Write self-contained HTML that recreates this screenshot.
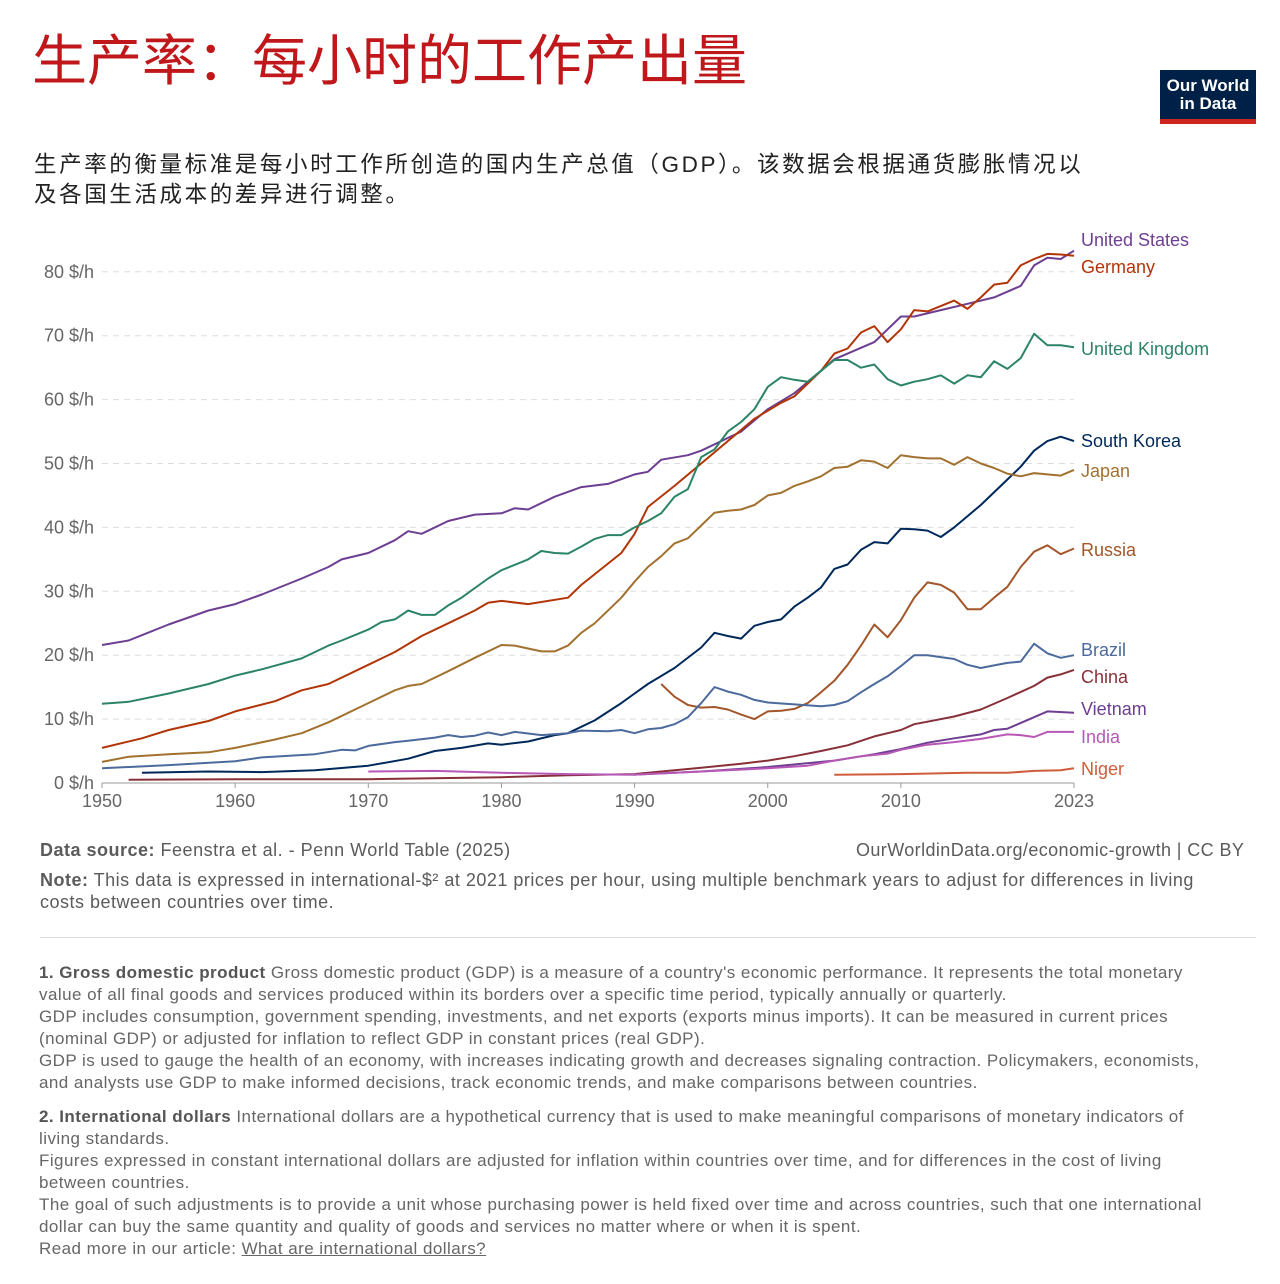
<!DOCTYPE html>
<html><head><meta charset="utf-8">
<style>
body{margin:0;width:1280px;height:1284px;background:#fff;font-family:"Liberation Sans","Noto Sans CJK SC",sans-serif;position:relative;overflow:hidden}
.abs{position:absolute}
#title{left:32px;top:16px;font-size:55px;color:#c0171b;white-space:nowrap}
#logo{left:1160px;top:70px;width:96px;height:54px;background:#002147;color:#fff;font-size:17px;font-weight:bold;line-height:18px;text-align:center;padding-top:7px;box-sizing:border-box}
#logo:after{content:"";position:absolute;left:0;right:0;bottom:0;height:5px;background:#ce261e}
#subtitle{left:34px;top:150px;font-size:22.5px;line-height:30px;color:#222;white-space:nowrap;letter-spacing:2.6px}
.foot{left:40px;font-size:18px;color:#5b5b5b;line-height:22px;white-space:nowrap;letter-spacing:0.5px}
.notes{left:39px;font-size:17px;color:#666;line-height:22px;white-space:nowrap;letter-spacing:0.45px}
.notes b{color:#555}
</style></head><body>
<div id="title" class="abs">生产率：每小时的工作产出量</div>
<div id="logo" class="abs">Our World<br>in Data</div>
<div id="subtitle" class="abs">生产率的衡量标准是每小时工作所创造的国内生产总值（GDP）。该数据会根据通货膨胀情况以<br>及各国生活成本的差异进行调整。</div>
<svg id="chart" class="abs" style="left:0;top:220px" width="1280" height="600"></svg>
<div class="abs foot" style="top:839px"><b>Data source:</b> Feenstra et al. - Penn World Table (2025)</div>
<div class="abs foot" style="top:839px;left:856px;letter-spacing:0.4px">OurWorldinData.org/economic-growth | CC BY</div>
<div class="abs foot" style="top:869px"><b>Note:</b> This data is expressed in international-$² at 2021 prices per hour, using multiple benchmark years to adjust for differences in living<br>costs between countries over time.</div>
<div class="abs" style="left:40px;top:937px;width:1216px;height:1px;background:#ddd"></div>
<div class="abs notes" style="top:962px"><b>1. Gross domestic product</b> Gross domestic product (GDP) is a measure of a country's economic performance. It represents the total monetary<br>value of all final goods and services produced within its borders over a specific time period, typically annually or quarterly.<br>GDP includes consumption, government spending, investments, and net exports (exports minus imports). It can be measured in current prices<br>(nominal GDP) or adjusted for inflation to reflect GDP in constant prices (real GDP).<br>GDP is used to gauge the health of an economy, with increases indicating growth and decreases signaling contraction. Policymakers, economists,<br>and analysts use GDP to make informed decisions, track economic trends, and make comparisons between countries.</div>
<div class="abs notes" style="top:1106px"><b>2. International dollars</b> International dollars are a hypothetical currency that is used to make meaningful comparisons of monetary indicators of<br>living standards.<br>Figures expressed in constant international dollars are adjusted for inflation within countries over time, and for differences in the cost of living<br>between countries.<br>The goal of such adjustments is to provide a unit whose purchasing power is held fixed over time and across countries, such that one international<br>dollar can buy the same quantity and quality of goods and services no matter where or when it is spent.<br>Read more in our article: <span style="text-decoration:underline">What are international dollars?</span></div>
<script>
const yTicks=[0,10,20,30,40,50,60,70,80];
const xTicks=[1950,1960,1970,1980,1990,2000,2010,2023];
const usY=[1950,1952,1955,1958,1960,1962,1965,1967,1968,1970,1972,1973,1974,1976,1978,1980,1981,1982,1984,1986,1988,1990,1991,1992,1994,1995,1998,2000,2002,2004,2005,2008,2010,2011,2013,2015,2017,2019,2020,2021,2022,2023];
const usV=[21.6,22.3,24.8,27,28,29.5,32,33.8,35,36,38,39.4,39,41,42,42.2,43,42.8,44.8,46.3,46.8,48.3,48.7,50.6,51.3,52,55,58.5,61,64.5,66.3,69,73,73,74,75,76,77.8,81,82.2,82,83.3];
const deY=[1950,1953,1955,1958,1960,1963,1965,1967,1970,1972,1974,1976,1978,1979,1980,1982,1985,1986,1989,1990,1991,1993,1995,1997,1999,2001,2002,2003,2004,2005,2006,2007,2008,2009,2010,2011,2012,2014,2015,2016,2017,2018,2019,2020,2021,2022,2023];
const deV=[5.5,7,8.3,9.7,11.2,12.8,14.5,15.5,18.5,20.5,23,25,27,28.2,28.5,28,29,31,36,39,43.2,46.5,50,53.5,57,59.5,60.5,62.5,64.5,67.2,68,70.5,71.5,69,71,74,73.8,75.5,74.2,76,78,78.3,81,82,82.8,82.7,82.5];
const ukY=[1950,1952,1955,1958,1960,1962,1965,1967,1968,1970,1971,1972,1973,1974,1975,1976,1977,1979,1980,1982,1983,1984,1985,1986,1987,1988,1989,1990,1991,1992,1993,1994,1995,1996,1997,1998,1999,2000,2001,2002,2003,2004,2005,2006,2007,2008,2009,2010,2011,2012,2013,2014,2015,2016,2017,2018,2019,2020,2021,2022,2023];
const ukV=[12.4,12.7,14,15.5,16.8,17.8,19.5,21.5,22.3,24,25.2,25.6,27,26.3,26.3,27.8,29,32,33.3,35,36.3,36,35.9,37,38.2,38.8,38.8,40,41,42.2,44.8,46,51,52.2,55,56.5,58.5,62,63.5,63.1,62.8,64.5,66.2,66.2,65,65.5,63.2,62.2,62.8,63.2,63.8,62.5,63.8,63.5,66,64.8,66.5,70.3,68.5,68.5,68.2];
const jpY=[1950,1952,1955,1958,1960,1963,1965,1967,1970,1972,1973,1974,1976,1978,1980,1981,1983,1984,1985,1986,1987,1989,1990,1991,1992,1993,1994,1995,1996,1997,1998,1999,2000,2001,2002,2003,2004,2005,2006,2007,2008,2009,2010,2011,2012,2013,2014,2015,2016,2017,2018,2019,2020,2021,2022,2023];
const jpV=[3.3,4.1,4.5,4.8,5.5,6.8,7.8,9.5,12.5,14.5,15.2,15.5,17.5,19.6,21.6,21.5,20.6,20.6,21.5,23.5,25,29,31.5,33.8,35.5,37.5,38.3,40.3,42.3,42.6,42.8,43.5,45,45.4,46.5,47.2,48,49.3,49.5,50.5,50.3,49.3,51.3,51,50.8,50.8,49.8,51,50,49.3,48.4,48,48.5,48.3,48.1,49];
const krY=[1953,1958,1962,1966,1970,1973,1975,1977,1979,1980,1982,1984,1985,1987,1989,1990,1991,1993,1995,1996,1997,1998,1999,2000,2001,2002,2003,2004,2005,2006,2007,2008,2009,2010,2011,2012,2013,2014,2016,2018,2019,2020,2021,2022,2023];
const krV=[1.6,1.8,1.7,2,2.7,3.8,5,5.5,6.2,6,6.5,7.5,7.8,9.8,12.5,14,15.5,18,21.2,23.5,23,22.6,24.6,25.2,25.6,27.6,29,30.6,33.5,34.2,36.5,37.7,37.5,39.8,39.7,39.5,38.5,40,43.5,47.5,49.5,52,53.5,54.2,53.5];
const ruY=[1992,1993,1994,1995,1996,1997,1998,1999,2000,2001,2002,2003,2004,2005,2006,2007,2008,2009,2010,2011,2012,2013,2014,2015,2016,2017,2018,2019,2020,2021,2022,2023];
const ruV=[15.5,13.5,12.2,11.8,11.9,11.5,10.7,10,11.2,11.3,11.6,12.5,14.2,16,18.5,21.5,24.8,22.8,25.5,29,31.4,31,29.8,27.2,27.2,29,30.7,33.8,36.2,37.2,35.8,36.7];
const brY=[1950,1955,1960,1962,1966,1968,1969,1970,1972,1973,1975,1976,1977,1978,1979,1980,1981,1983,1985,1986,1988,1989,1990,1991,1992,1993,1994,1995,1996,1997,1998,1999,2000,2002,2004,2005,2006,2007,2008,2009,2010,2011,2012,2013,2014,2015,2016,2017,2018,2019,2020,2021,2022,2023];
const brV=[2.3,2.8,3.4,4,4.5,5.2,5.1,5.8,6.4,6.6,7.1,7.5,7.2,7.4,7.9,7.5,8,7.5,7.8,8.2,8.1,8.3,7.8,8.4,8.6,9.2,10.3,12.5,15,14.3,13.8,13,12.6,12.3,12,12.2,12.8,14.2,15.5,16.7,18.3,20,20,19.7,19.4,18.5,18,18.4,18.8,19,21.8,20.3,19.6,20];
const cnY=[1952,1960,1970,1980,1985,1990,1992,1995,1998,2000,2002,2004,2006,2008,2010,2011,2012,2014,2016,2018,2020,2021,2022,2023];
const cnV=[0.5,0.6,0.6,0.9,1.2,1.4,1.8,2.4,3,3.5,4.2,5,5.9,7.3,8.3,9.2,9.6,10.4,11.5,13.3,15.2,16.5,17,17.7];
const vnY=[1990,1995,2000,2005,2008,2010,2012,2014,2016,2017,2018,2020,2021,2023];
const vnV=[1.3,1.8,2.5,3.5,4.5,5.3,6.3,7,7.6,8.3,8.5,10.3,11.2,11];
const inY=[1970,1975,1980,1985,1990,1995,1998,2000,2003,2005,2007,2009,2010,2012,2014,2016,2018,2019,2020,2021,2023];
const inV=[1.8,1.9,1.6,1.4,1.3,1.8,2.1,2.3,2.7,3.5,4.2,4.6,5.2,6,6.4,6.9,7.6,7.5,7.2,8,8];
const neY=[2005,2010,2015,2018,2020,2022,2023];
const neV=[1.3,1.4,1.6,1.6,1.9,2,2.3];
const series=[
 ["United States",usY,usV,"#6d3e91",20],["Germany",deY,deV,"#b13507",47],["United Kingdom",ukY,ukV,"#2b8465",129],
 ["South Korea",krY,krV,"#00295b",221],["Japan",jpY,jpV,"#a2712f",251],["Russia",ruY,ruV,"#a2562a",330],
 ["Brazil",brY,brV,"#4c6a9c",430],["China",cnY,cnV,"#883039",457],["Vietnam",vnY,vnV,"#6d3e91",489],
 ["India",inY,inV,"#b858b6",517],["Niger",neY,neV,"#cf5c3a",549]];
const svg=document.getElementById('chart');const NS="http://www.w3.org/2000/svg";
const X=y=>102+(y-1950)*(972/73);const Y=v=>563-v*6.39;
function mk(t,a){const e=document.createElementNS(NS,t);for(const k in a)e.setAttribute(k,a[k]);svg.appendChild(e);return e;}
yTicks.forEach(v=>{
 if(v>0){const l=mk('line',{x1:102,x2:1074,y1:Y(v),y2:Y(v),stroke:'#ddd','stroke-dasharray':'6,5'});
 
 }
 const t=mk('text',{x:94,y:Y(v)+6,'text-anchor':'end','font-size':18,fill:'#666','font-family':'Liberation Sans'});t.textContent=v+' $/h';
 
 
});
const ax=mk('line',{x1:102,x2:1074,y1:Y(0),y2:Y(0),stroke:'#999'});


xTicks.forEach(yr=>{
 const tk=mk('line',{x1:X(yr),x2:X(yr),y1:Y(0),y2:Y(0)+5,stroke:'#999'});
 
 
 const t=mk('text',{x:X(yr),y:Y(0)+24,'text-anchor':'middle','font-size':18,fill:'#666','font-family':'Liberation Sans'});t.textContent=yr;
 
 
});
series.forEach(s=>{
 const [name,ys,vs,col,ly]=s;
 const p=mk('polyline',{points:ys.map((y,i)=>X(y).toFixed(1)+','+Y(vs[i]).toFixed(1)).join(' '),fill:'none',stroke:col,'stroke-width':2,'stroke-linejoin':'round'});
 
 
 const t=mk('text',{x:1081,y:ly+6,'font-size':18,fill:col,'font-family':'Liberation Sans'});t.textContent=name;
 
 
});
</script>
</body></html>
